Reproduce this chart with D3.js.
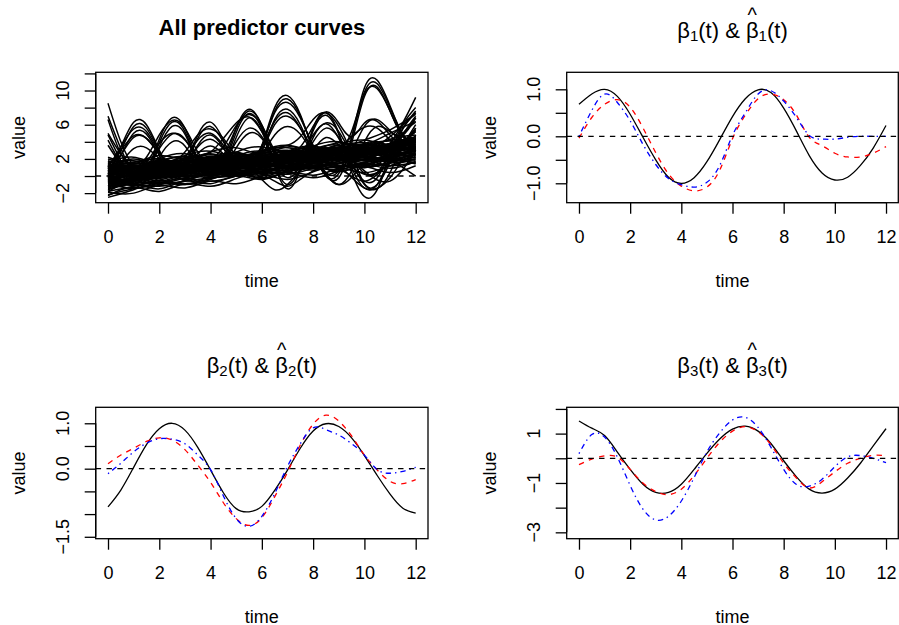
<!DOCTYPE html>
<html lang="en">
<head>
<meta charset="UTF-8">
<script src="https://cdn.jsdelivr.net/npm/d3@7"></script>
<style>
  body { margin: 0; background: #ffffff; }
  svg { display: block; font-family: "Liberation Sans", Arial, sans-serif; }
</style>
</head>
<body>
<div id="chart"></div>
<script>
// ---- data ----
const timeFine = [0, 0.5, 1, 1.5, 2, 2.5, 3, 3.5, 4, 4.5, 5, 5.5, 6, 6.5, 7, 7.5, 8, 8.5, 9, 9.5, 10, 10.5, 11, 11.5, 12];
const timeCoarse = [0, 1, 2, 3, 4, 5, 6, 7, 8, 9, 10, 11, 12];
const xTicks = [0, 2, 4, 6, 8, 10, 12];

// predictor curves sampled on the coarse grid (the dense band)
const bandCurves = [
  [-0.5, 0.2, 0.6, 0.4, 0.9, 1.3, 1.1, 1.6, 2.2, 2.0, 2.5, 3.1, 3.0],
  [0.8, 1.2, 0.9, 1.5, 1.8, 1.4, 2.0, 2.6, 2.3, 2.8, 3.4, 3.0, 3.6],
  [-1.2, -0.6, -0.2, 0.3, 0.1, 0.7, 1.2, 1.0, 1.5, 2.1, 1.8, 2.4, 2.9],
  [0.2, -0.3, 0.5, 1.0, 0.6, 1.1, 1.6, 1.3, 2.0, 2.4, 2.2, 2.9, 3.3],
  [1.5, 1.8, 1.2, 1.6, 2.3, 2.0, 1.7, 2.4, 3.0, 2.7, 3.2, 3.8, 4.1],
  [-2.2, -1.5, -1.0, -0.6, -0.2, 0.0, 0.4, 0.9, 0.7, 1.2, 1.0, 1.6, 2.0],
  [0.0, 0.6, 1.0, 0.7, 1.3, 1.8, 2.2, 1.9, 2.5, 3.1, 2.9, 3.5, 3.9],
  [-0.8, -0.2, 0.3, 0.0, 0.4, 0.9, 0.6, 1.2, 1.7, 1.5, 2.2, 2.0, 2.6],
  [1.0, 0.5, 0.9, 1.6, 1.3, 1.8, 2.4, 2.1, 2.7, 2.4, 3.0, 3.6, 3.4],
  [-1.5, -1.0, -1.2, -0.5, 0.2, 0.5, 0.3, 0.8, 1.4, 1.1, 1.6, 2.2, 2.5],
  [0.5, 0.9, 1.4, 1.1, 0.8, 1.5, 2.0, 1.8, 2.3, 2.9, 3.3, 3.0, 3.5],
  [-0.3, 0.4, 0.1, 0.6, 1.1, 0.9, 1.4, 1.9, 1.6, 2.2, 2.6, 2.5, 3.2],
  [2.0, 1.4, 1.8, 2.3, 1.9, 2.5, 2.2, 2.8, 3.3, 3.0, 3.6, 3.3, 4.4],
  [-1.0, -1.4, -0.8, -0.3, -0.6, 0.0, 0.5, 0.2, 0.9, 1.3, 1.0, 1.5, 1.8],
  [0.3, 0.0, 0.4, 0.9, 1.4, 1.0, 1.5, 2.1, 1.8, 2.3, 2.8, 3.4, 3.1],
  [1.2, 1.6, 2.0, 1.5, 2.1, 2.4, 2.0, 2.6, 2.9, 3.4, 3.1, 3.7, 4.3],
  [-0.6, -1.0, -0.5, 0.1, -0.2, 0.3, 0.8, 0.6, 1.1, 1.5, 1.9, 1.7, 2.3],
  [0.6, 0.2, 0.7, 0.5, 1.0, 1.6, 1.4, 1.9, 2.4, 2.0, 2.6, 3.2, 3.7],
  [-1.8, -1.2, -0.7, -0.9, -0.3, 0.2, 0.0, 0.6, 1.0, 0.8, 1.4, 1.2, 1.6],
  [1.8, 1.1, 1.5, 2.0, 2.5, 2.2, 2.7, 3.0, 2.6, 3.2, 3.7, 3.4, 4.0],
  [0.0, 0.5, 0.2, 0.8, 0.5, 1.2, 1.0, 1.5, 2.0, 1.8, 2.4, 2.8, 2.4],
  [-0.4, 0.1, 0.7, 1.2, 0.9, 1.4, 1.9, 1.6, 2.1, 2.6, 2.3, 3.0, 3.4],
  [1.0, 1.3, 0.8, 1.2, 1.7, 1.3, 1.8, 2.3, 2.8, 2.5, 2.9, 3.5, 3.0],
  [-1.3, -0.7, -0.9, -0.2, 0.3, 0.1, 0.6, 1.1, 0.9, 1.5, 2.0, 1.8, 2.2],
  [0.4, 0.9, 0.6, 1.1, 1.6, 2.0, 1.7, 2.2, 2.7, 3.1, 2.8, 3.3, 3.8],
  [-0.2, -0.6, 0.0, 0.4, 0.2, 0.8, 1.3, 1.1, 1.6, 2.0, 1.6, 2.3, 2.7],
  [0.9, 0.4, 1.0, 1.4, 1.0, 1.7, 2.1, 2.5, 2.2, 2.6, 3.2, 2.9, 3.3],
  [-0.9, -0.4, 0.2, -0.1, 0.5, 1.0, 0.7, 1.3, 1.8, 2.2, 1.9, 2.5, 3.0],
  [1.4, 0.9, 1.3, 1.9, 1.5, 2.1, 2.6, 2.3, 2.9, 3.3, 3.0, 3.8, 4.5],
  [0.1, 0.3, -0.2, 0.3, 0.7, 0.4, 0.9, 1.5, 1.2, 1.7, 2.2, 2.0, 2.5],
  [0.3, 0.8, 1.1, 0.9, 1.4, 1.8, 1.6, 2.1, 2.5, 2.3, 2.0, 3.8, 9.2],
  [-0.7, -0.2, 0.2, 0.6, 0.4, 0.9, 1.4, 1.2, 1.8, 2.2, 2.8, 4.6, 7.4],
  [1.1, 1.5, 1.2, 1.7, 2.2, 1.9, 2.4, 2.9, 2.6, 3.0, 3.6, 5.0, 6.4],
  [0.0, -0.5, 0.1, 0.5, 1.0, 0.8, 1.2, 1.7, 2.1, 1.9, 1.0, 2.4, 5.6],
  [-1.1, -0.5, 0.0, -0.3, 0.3, 0.7, 0.5, 1.0, 1.5, 1.2, -1.4, -0.2, 4.8],
  [0.7, 1.1, 1.6, 1.3, 1.8, 2.3, 2.0, 2.5, 3.0, 2.7, 3.4, 2.0, 0.0],
  [0.5, 1.0, 0.7, 1.2, 1.7, 1.4, 2.0, 2.4, 2.0, -1.0, 1.5, 2.8, 3.5],
  [-2.5, -1.6, -0.8, -1.0, -0.4, 0.3, -0.2, 0.5, 1.1, 0.6, 1.3, 1.9, 1.5],
  [1.6, 2.2, 1.5, 2.4, 2.9, 2.3, 3.0, 3.6, 3.0, 3.7, 4.2, 3.6, 4.3],
  [-1.6, -0.9, -1.5, -0.6, -0.9, 0.0, -0.4, 0.4, 0.1, 0.9, 1.4, 0.9, 1.7],
  [0.7, 1.4, 2.0, 1.2, 2.1, 2.7, 2.1, 2.9, 3.5, 2.8, 3.6, 4.1, 3.7],
  [-0.1, -0.9, 0.0, 0.7, 0.0, 0.8, 1.6, 0.8, 1.7, 2.5, 1.8, 2.6, 3.3],
  [1.3, 0.6, 1.6, 2.2, 1.4, 2.3, 2.9, 2.1, 3.1, 3.6, 2.9, 3.8, 4.6],
  [-1.9, -2.0, -1.1, -1.4, -0.6, -0.9, 0.0, 0.4, -0.2, 0.6, 1.1, 0.4, 1.2],
  [0.0, 1.0, 0.4, 1.3, 2.0, 1.4, 2.2, 1.7, 2.6, 3.2, 2.6, 3.3, 3.9],
  [-0.7, 0.0, -0.6, 0.3, 0.8, 0.2, 1.0, 1.6, 0.9, 1.8, 2.3, 1.7, 2.5],
  [2.2, 1.6, 2.4, 2.0, 2.8, 3.3, 2.6, 3.4, 3.1, 3.9, 3.5, 4.2, 4.0],
  [-1.4, -0.5, 0.3, -0.4, 0.5, 1.1, 0.4, 1.2, 1.8, 1.2, 2.0, 2.7, 2.1],
  [0.9, 0.1, -0.3, 0.6, 1.2, 0.6, 1.3, 2.0, 1.4, 2.2, 2.8, 2.2, 3.0],
  [-0.3, -1.1, -0.5, -1.0, 0.0, 0.4, -0.3, 0.6, 1.2, 0.5, 1.5, 2.1, 1.4],
  [1.7, 1.0, 2.0, 2.6, 1.9, 2.8, 3.4, 2.7, 3.5, 4.0, 3.4, 4.3, 4.8],
  [0.3, 0.8, 1.5, 0.8, 1.5, 2.1, 1.5, 2.3, 2.0, 2.9, 2.4, 3.2, 2.8],
  [-2.3, -1.3, -1.8, -0.9, -1.2, -0.3, 0.2, -0.4, 0.5, 1.0, 0.4, 1.2, 2.0],
  [1.1, 2.0, 1.3, 1.9, 2.6, 2.0, 2.8, 3.3, 2.7, 3.4, 3.9, 3.4, 4.2],
  [-0.5, 0.3, 1.0, 0.5, 0.0, 0.9, 1.5, 1.1, 1.9, 1.5, 2.3, 1.9, 2.6],
  [0.5, -0.2, 0.5, 1.3, 0.8, 1.6, 1.2, 2.0, 2.6, 2.0, 2.8, 3.4, 3.0],
  [-1.2, -0.3, -0.8, 0.1, 0.7, 0.2, 1.0, 0.6, 1.5, 2.0, 1.4, 2.2, 2.9],
  [0.2, 1.2, 0.6, 0.2, 1.1, 1.6, 1.1, 1.9, 2.5, 1.9, 2.7, 3.1, 5.2],
  [-0.9, -0.1, 0.6, 0.1, 0.9, 1.4, 0.8, 1.6, 1.2, 2.1, 1.2, 3.0, 6.8],
  [1.4, 0.7, 1.2, 1.8, 1.2, 2.0, 2.5, 1.9, 2.7, 2.2, 0.2, 1.6, 6.0],
  [0.6, 1.3, 0.8, 1.5, 2.1, 1.5, 2.3, 2.8, 2.2, 3.0, 4.2, 5.4, 7.2],
  [-0.4, 0.4, -0.1, 0.7, 1.3, 0.8, 1.6, 2.2, 1.6, 2.4, 0.6, -0.6, 3.0]
];

// predictor curves sampled on the fine grid (bumps and steep starts)
const bumpCurves = [
  [0.2, 3.4, 6.3, 6.0, 3.0, 0.5, 1.3, 4.8, 6.3, 4.2, 1.2, 0.6, 3.5, 8.0, 9.4, 7.2, 3.0, 0.0, 0.3, 4.5, 10.3, 11.2, 8.2, 4.8, 3.2],
  [0.6, 3.0, 5.8, 5.6, 2.9, 0.9, 1.5, 4.4, 5.8, 4.0, 1.6, 1.0, 3.4, 7.6, 9.0, 7.0, 3.2, 0.4, 0.6, 4.4, 9.8, 10.8, 8.0, 4.9, 3.6],
  [-0.2, 2.4, 5.0, 4.9, 2.4, 0.2, 0.9, 3.6, 4.8, 3.3, 1.0, 0.7, 2.9, 6.6, 7.8, 6.0, 2.6, 0.0, -0.2, 3.8, 9.3, 10.4, 7.6, 4.6, 3.9],
  [0.9, 2.5, 4.5, 4.4, 2.6, 1.2, 1.6, 3.4, 4.3, 3.2, 1.8, 1.5, 3.0, 6.0, 7.0, 5.6, 3.0, 1.0, 0.6, 2.8, 5.8, 6.6, 5.3, 4.2, 4.6],
  [0.4, 1.6, 3.2, 3.3, 2.0, 0.8, 1.1, 2.6, 3.5, 2.6, 1.5, 1.4, 2.6, 4.8, 5.8, 4.9, 2.6, 0.2, -1.0, 0.6, 4.0, 5.8, 5.2, 4.8, 6.8],
  [1.5, 0.4, -0.6, 0.6, 4.3, 6.8, 5.6, 2.0, 0.2, 1.5, 5.6, 7.8, 5.8, 1.2, -1.5, 0.8, 5.6, 7.4, 5.0, 0.5, -2.4, -1.6, 2.5, 6.0, 8.0],
  [0.9, 0.0, -0.8, 0.4, 3.9, 6.3, 5.2, 1.7, 0.0, 1.2, 5.1, 7.3, 5.5, 1.3, -1.0, 1.0, 5.3, 7.1, 4.9, 1.0, -1.4, -1.0, 2.2, 5.5, 7.6],
  [0.2, -0.5, -0.9, 0.2, 3.4, 5.8, 4.9, 1.6, 0.1, 1.0, 4.5, 6.8, 5.2, 1.6, -0.2, 1.2, 4.5, 6.1, 4.4, 1.4, -0.6, -0.2, 2.6, 5.0, 6.3],
  [1.2, 0.6, 0.0, 1.0, 3.2, 4.9, 4.3, 2.0, 0.8, 1.6, 4.0, 5.6, 4.6, 2.0, 0.4, 1.6, 4.0, 5.6, 4.5, 2.2, 0.3, 0.4, 2.8, 5.6, 7.4],
  [-0.5, -1.2, -1.4, -0.4, 2.2, 4.0, 3.5, 1.2, 0.1, 0.9, 3.3, 5.0, 4.4, 2.0, 0.3, 1.0, 3.0, 4.5, 3.6, 1.5, -1.0, -1.5, 0.4, 3.6, 5.4],
  [8.5, 4.0, 1.2, 0.5, 0.9, 1.4, 1.2, 1.0, 1.5, 1.9, 1.7, 2.0, 2.4, 2.2, 2.6, 2.9, 2.7, 3.0, 3.3, 3.0, 3.4, 3.8, 3.5, 3.7, 4.0],
  [7.0, 3.2, 0.4, -0.2, 0.3, 0.8, 0.6, 1.0, 1.3, 1.0, 1.5, 1.9, 1.6, 2.0, 2.3, 2.1, 2.5, 2.3, 2.8, 3.1, 2.8, 3.0, 3.4, 3.9, 4.2],
  [6.6, 2.6, 0.9, 1.3, 1.7, 1.4, 1.9, 2.2, 1.8, 2.3, 2.6, 2.4, 2.8, 3.1, 2.7, 3.2, 3.5, 3.2, 3.6, 3.3, 3.8, 4.0, 3.6, 3.9, 4.4],
  [4.8, 1.8, -0.4, 0.0, 0.4, 0.2, 0.7, 1.0, 0.8, 1.2, 1.6, 1.3, 1.8, 2.1, 1.9, 2.3, 2.0, 2.5, 2.8, 2.5, 2.2, 1.6, 1.2, 1.8, 2.6],
  [4.2, 1.5, 0.2, 0.6, 0.3, 0.9, 1.2, 1.0, 1.4, 1.8, 1.5, 2.0, 2.4, 2.1, 2.6, 2.9, 2.6, 3.0, 3.3, 3.1, 2.4, 1.5, 1.6, 3.2, 5.6],
  [0.5, 0.8, 0.9, 2.2, 4.8, 6.5, 5.6, 2.8, 1.2, 2.4, 5.6, 7.6, 6.0, 2.6, 1.2, 1.8, 2.5, 2.9, 2.6, 3.0, 3.4, 3.1, 3.5, 3.8, 4.2],
  [1.0, 3.4, 5.5, 5.2, 2.8, 1.4, 2.2, 4.2, 5.0, 3.6, 1.8, 1.6, 3.4, 6.4, 7.4, 5.6, 2.8, 1.6, 2.0, 2.6, 3.0, 2.7, 3.1, 3.6, 4.0],
  [-0.6, 0.0, 0.4, 0.2, 0.7, 1.0, 0.8, 1.2, 1.5, 1.3, 1.7, 2.0, 1.8, 2.2, 2.6, 3.4, 5.8, 7.5, 6.2, 4.6, 6.2, 6.4, 4.8, 3.5, 3.2],
  [0.0, 0.5, 0.3, 0.8, 1.1, 0.9, 1.4, 1.6, 2.0, 3.4, 5.9, 7.2, 5.9, 3.0, 1.8, 2.6, 4.8, 6.2, 5.2, 2.8, 2.2, 2.6, 3.2, 3.8, 4.6],
  [-0.8, -0.2, 0.4, 1.6, 3.8, 5.0, 4.2, 2.2, 1.0, 1.2, 1.6, 1.0, -0.4, -1.6, -1.0, 0.6, 1.8, 2.4, 3.2, 4.6, 5.7, 5.6, 4.2, 3.4, 4.4],
  [0.3, 0.6, 1.0, 0.8, 1.2, 1.6, 2.8, 4.8, 5.5, 4.4, 2.4, 1.8, 3.6, 7.4, 8.6, 6.8, 3.6, 2.2, 2.6, 3.0, 3.3, 3.0, 3.4, 3.9, 4.3],
  [1.2, 3.0, 4.7, 4.4, 2.6, 1.6, 1.9, 2.2, 2.8, 4.4, 6.2, 6.9, 5.2, 2.8, 1.9, 2.4, 2.6, 2.2, 2.8, 5.2, 9.6, 10.2, 7.6, 4.6, 3.4],
  [0.8, 1.2, 1.0, 1.4, 1.8, 1.5, 2.0, 2.3, 2.0, 2.4, 2.8, 2.5, 2.9, 3.3, 3.6, 4.6, 6.6, 7.4, 5.8, 2.6, -0.9, -1.0, 1.6, 4.8, 7.0],
  [-1.8, -1.0, -0.4, -0.8, -0.2, 0.4, 0.0, -0.6, -0.2, 0.4, 0.0, 0.6, 0.2, -0.6, -1.2, -0.4, 0.6, 1.2, 0.8, 0.0, -0.6, 0.2, 1.6, 2.6, 3.0],
  [5.0, 2.6, 1.0, 0.6, 1.0, 1.4, 1.1, 1.5, 1.9, 1.6, 2.0, 2.4, 2.1, 2.6, 2.9, 2.6, 3.0, 3.3, 3.0, 3.4, 3.7, 3.3, 3.6, 4.0, 5.2],
  [3.6, 1.4, 0.0, -0.4, 0.2, 0.6, 0.3, 0.8, 1.2, 0.9, 1.4, 1.7, 1.4, 1.9, 2.2, 1.9, 2.4, 2.7, 2.4, 2.8, 3.2, 2.9, 3.3, 3.0, 2.8]
];

// true coefficient functions (black) and two estimates (red dashed, blue dot-dash)
const beta1True = [0.68, 0.9, 1.0, 0.85, 0.47, -0.02, -0.5, -0.87, -1.0, -0.88, -0.54, -0.07, 0.42, 0.8, 0.99, 0.93, 0.6, 0.11, -0.41, -0.78, -0.93, -0.87, -0.62, -0.25, 0.23];
const beta1Red = [-0.04, 0.4, 0.68, 0.78, 0.62, 0.18, -0.35, -0.8, -1.06, -1.16, -1.08, -0.72, -0.05, 0.45, 0.8, 0.9, 0.78, 0.45, -0.02, -0.2, -0.36, -0.44, -0.44, -0.36, -0.22];
const beta1Blue = [0.0, 0.55, 0.9, 0.72, 0.33, -0.17, -0.6, -0.9, -1.03, -1.08, -0.98, -0.62, 0.02, 0.5, 0.9, 0.97, 0.75, 0.4, 0.02, -0.06, -0.06, -0.02, 0.0, 0.0, 0.0];

const beta2True = [-0.84, -0.47, 0.03, 0.53, 0.88, 1.0, 0.85, 0.47, -0.03, -0.53, -0.88, -0.95, -0.83, -0.48, -0.03, 0.45, 0.83, 0.99, 0.93, 0.68, 0.29, -0.15, -0.56, -0.87, -0.98];
const beta2Red = [0.11, 0.3, 0.45, 0.6, 0.68, 0.63, 0.42, 0.08, -0.3, -0.75, -1.1, -1.25, -1.08, -0.62, -0.08, 0.52, 0.98, 1.18, 1.05, 0.72, 0.3, -0.03, -0.28, -0.33, -0.24];
const beta2Blue = [-0.11, 0.12, 0.37, 0.56, 0.66, 0.65, 0.55, 0.3, -0.02, -0.6, -1.1, -1.27, -1.05, -0.55, 0.05, 0.55, 0.9, 0.86, 0.74, 0.55, 0.3, -0.02, -0.1, -0.06, 0.03];

const beta3True = [1.51, 1.22, 0.92, 0.25, -0.45, -1.05, -1.38, -1.38, -1.05, -0.45, 0.2, 0.78, 1.18, 1.3, 1.1, 0.6, -0.1, -0.75, -1.25, -1.41, -1.25, -0.8, -0.2, 0.5, 1.2];
const beta3Red = [-0.26, -0.03, 0.1, 0.05, -0.45, -1.0, -1.35, -1.47, -1.25, -0.7, 0.0, 0.65, 1.1, 1.28, 1.08, 0.55, -0.2, -0.8, -1.2, -0.95, -0.55, -0.2, 0.0, 0.12, 0.1];
const beta3Blue = [0.19, 0.96, 0.86, 0.05, -1.1, -2.06, -2.5, -2.35, -1.73, -0.78, 0.26, 1.03, 1.55, 1.66, 1.25, 0.45, -0.45, -1.06, -1.13, -0.85, -0.34, 0.06, 0.11, 0.0, -0.18];

// y axis ticks and the labels R kept
const predTicks = [-2, 0, 2, 4, 6, 8, 10, 12];
const predLabels = [-2, 2, 6, 10];
const beta1Ticks = [-1, -0.5, 0, 0.5, 1];
const beta1Labels = [-1, 0, 1];
const beta2Ticks = [-1.5, -1, -0.5, 0, 0.5, 1];
const beta2Labels = [-1.5, 0, 1];
const beta3Ticks = [-3, -2, -1, 0, 1, 2];
const beta3Labels = [-3, -1, 1];

// ---- layout ----
const W = 899, H = 625;
const LW = 1.3;
const dashLty2 = "5.4,5.4";
const dashLty4 = "1.4,4,5.4,4";
const fmt1 = d => d3.format(".1f")(d).replace("-", "\u2212");
const fmt0 = d => String(d).replace("-", "\u2212");

const svg = d3.select("#chart").append("svg")
    .attr("width", W)
    .attr("height", H);
svg.append("rect").attr("width", W).attr("height", H).attr("fill", "#fff");

const toPoints = (ts, vs) => ts.map((t, i) => [t, vs[i]]);

const panels = [
  {
    id: 1, box: [95.7, 72.3, 428, 202.7], yDomain: [-3.12, 12.13], lw: 1.5,
    yTicks: predTicks, yLabels: predLabels, yFmt: fmt0,
    title: { text: "All predictor curves" },
    series: bandCurves.map(v => ({ pts: toPoints(timeCoarse, v), color: "#000", dash: null }))
      .concat(bumpCurves.map(v => ({ pts: toPoints(timeFine, v), color: "#000", dash: null })))
  },
  {
    id: 2, box: [566.7, 72.3, 898.3, 202.7], yDomain: [-1.413, 1.362], lw: LW,
    yTicks: beta1Ticks, yLabels: beta1Labels, yFmt: fmt1,
    title: { sub: "1" },
    series: [
      { pts: toPoints(timeFine, beta1True), color: "#000", dash: null },
      { pts: toPoints(timeFine, beta1Red), color: "#ff0000", dash: dashLty2 },
      { pts: toPoints(timeFine, beta1Blue), color: "#0000ff", dash: dashLty4 }
    ]
  },
  {
    id: 3, box: [95.7, 407.3, 428, 538.7], yDomain: [-1.542, 1.352], lw: LW,
    yTicks: beta2Ticks, yLabels: beta2Labels, yFmt: fmt1,
    title: { sub: "2" },
    series: [
      { pts: toPoints(timeFine, beta2True), color: "#000", dash: null },
      { pts: toPoints(timeFine, beta2Red), color: "#ff0000", dash: dashLty2 },
      { pts: toPoints(timeFine, beta2Blue), color: "#0000ff", dash: dashLty4 }
    ]
  },
  {
    id: 4, box: [566.7, 407.3, 898.3, 538.7], yDomain: [-3.258, 2.066], lw: LW,
    yTicks: beta3Ticks, yLabels: beta3Labels, yFmt: fmt0,
    title: { sub: "3" },
    series: [
      { pts: toPoints(timeFine, beta3True), color: "#000", dash: null },
      { pts: toPoints(timeFine, beta3Red), color: "#ff0000", dash: dashLty2 },
      { pts: toPoints(timeFine, beta3Blue), color: "#0000ff", dash: dashLty4 }
    ]
  }
];

panels.forEach(drawPanel);

function drawPanel(p) {
  const [x0, y0, x1, y1] = p.box;
  const x = d3.scaleLinear().domain([-0.48, 12.48]).range([x0, x1]);
  const y = d3.scaleLinear().domain(p.yDomain).range([y1, y0]);
  const g = svg.append("g");

  g.append("clipPath").attr("id", "clip" + p.id)
    .append("rect").attr("x", x0).attr("y", y0).attr("width", x1 - x0).attr("height", y1 - y0);
  const plot = g.append("g").attr("clip-path", `url(#clip${p.id})`);

  const line = d3.line()
      .curve(d3.curveNatural)
      .x(d => x(d[0]))
      .y(d => y(d[1]));

  plot.selectAll(".curve")
    .data(p.series)
    .enter()
    .append("path")
    .attr("class", "curve")
    .attr("d", d => line(d.pts))
    .attr("fill", "none")
    .attr("stroke", d => d.color)
    .attr("stroke-width", p.lw)
    .attr("stroke-dasharray", d => d.dash);

  // abline(h = 0, lty = 2)
  plot.append("line")
    .attr("x1", x0).attr("x2", x1)
    .attr("y1", y(0)).attr("y2", y(0))
    .attr("stroke", "#000")
    .attr("stroke-width", LW)
    .attr("stroke-dasharray", dashLty2);

  // x axis
  const ax = g.append("g")
    .attr("transform", `translate(0,${y1})`)
    .call(d3.axisBottom(x).tickValues(xTicks).tickSize(11).tickSizeOuter(0));
  ax.attr("font-size", null).attr("font-family", null);
  ax.select(".domain").remove();
  ax.selectAll(".tick line").attr("stroke-width", LW);
  ax.selectAll(".tick text")
    .attr("y", 40.6).attr("dy", null)
    .attr("font-size", 18).attr("fill", "#000");
  ax.append("line")
    .attr("x1", x(xTicks[0])).attr("x2", x(xTicks[xTicks.length - 1]))
    .attr("stroke", "#000").attr("stroke-width", LW);

  // y axis
  const ay = g.append("g")
    .attr("transform", `translate(${x0},0)`)
    .call(d3.axisLeft(y).tickValues(p.yTicks).tickSize(11).tickSizeOuter(0).tickFormat(""));
  ay.select(".domain").remove();
  ay.selectAll(".tick line").attr("stroke-width", LW);
  ay.append("line")
    .attr("y1", y(d3.min(p.yTicks))).attr("y2", y(d3.max(p.yTicks)))
    .attr("stroke", "#000").attr("stroke-width", LW);
  g.selectAll(".ylab")
    .data(p.yLabels)
    .enter()
    .append("text")
    .attr("class", "ylab")
    .attr("transform", d => `translate(${x0 - 27},${y(d)}) rotate(-90)`)
    .attr("text-anchor", "middle")
    .attr("font-size", 18)
    .text(p.yFmt);

  // box
  g.append("rect")
    .attr("x", x0).attr("y", y0)
    .attr("width", x1 - x0).attr("height", y1 - y0)
    .attr("fill", "none")
    .attr("stroke", "#000")
    .attr("stroke-width", LW);

  // axis titles
  const cx = (x0 + x1) / 2;
  g.append("text")
    .attr("x", cx).attr("y", y1 + 84)
    .attr("text-anchor", "middle")
    .attr("font-size", 18)
    .text("time");
  g.append("text")
    .attr("transform", `translate(${x0 - 71},${(y0 + y1) / 2}) rotate(-90)`)
    .attr("text-anchor", "middle")
    .attr("font-size", 18)
    .text("value");

  // main title
  if (p.title.text) {
    g.append("text")
      .attr("x", cx).attr("y", y0 - 37.8)
      .attr("text-anchor", "middle")
      .attr("font-size", 22)
      .attr("font-weight", "bold")
      .text(p.title.text);
  } else {
    const t = g.append("text")
      .attr("x", cx).attr("y", y0 - 34.3)
      .attr("text-anchor", "middle")
      .attr("font-size", 22);
    t.append("tspan").text("\u03b2");
    t.append("tspan").attr("font-size", 15).attr("dy", 3).text(p.title.sub);
    t.append("tspan").attr("dy", -3).text("(t) & ");
    t.append("tspan").text("\u03b2");
    t.append("tspan").attr("font-size", 15).attr("dy", 3).text(p.title.sub);
    t.append("tspan").attr("dy", -3).text("(t)");
    // hat over the second beta
    const idx = 1 + p.title.sub.length + "(t) & ".length;
    const ext = t.node().getExtentOfChar(idx);
    g.append("text")
      .attr("x", ext.x + ext.width / 2)
      .attr("y", y0 - 50)
      .attr("text-anchor", "middle")
      .attr("font-size", 20)
      .text("^");
  }
}
</script>
</body>
</html>
